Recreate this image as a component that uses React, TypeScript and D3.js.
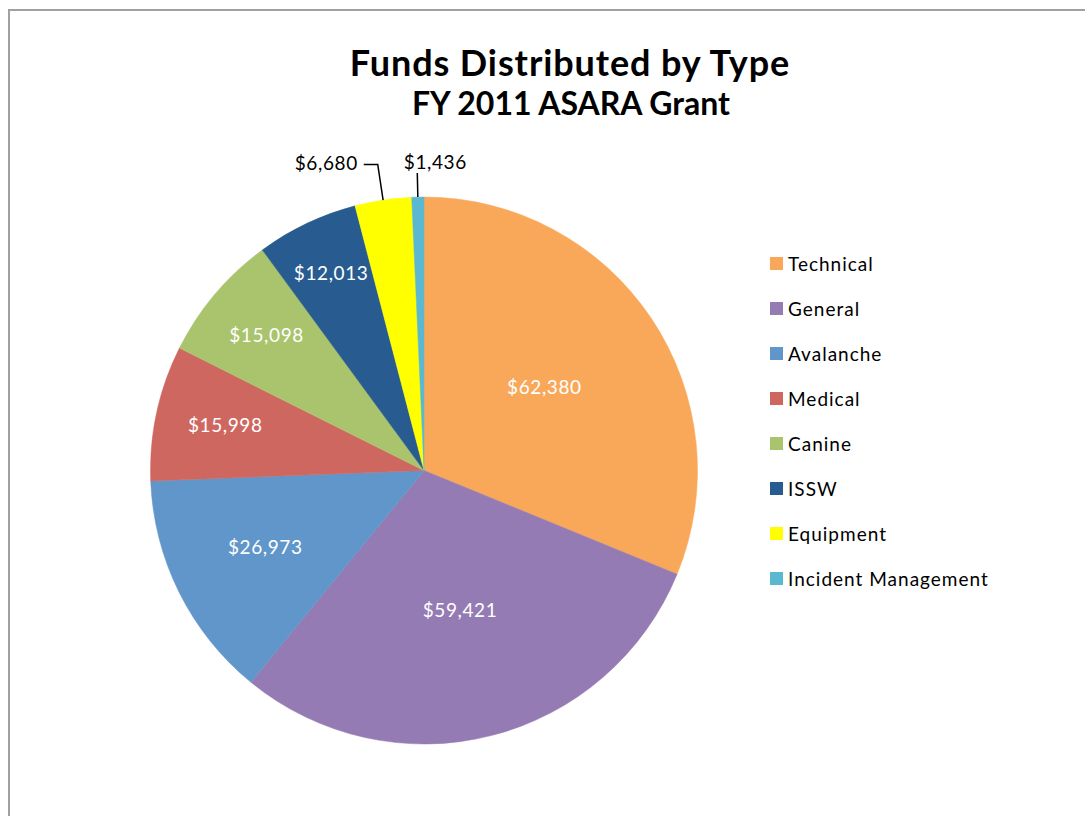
import { useEffect } from 'react';
import * as d3 from 'd3';

const categories = ['Technical', 'General', 'Avalanche', 'Medical', 'Canine', 'ISSW', 'Equipment', 'Incident Management'];
const funds = [62380, 59421, 26973, 15998, 15098, 12013, 6680, 1436];
const sliceColors = ['#F9A85A', '#957BB3', '#6196CA', '#CF6761', '#A9C46C', '#285C90', '#FFFF00', '#5BB8D1'];

const titleText = 'Funds Distributed by Type';
const subtitleText = 'FY 2011 ASARA Grant';

const W = 1085;
const H = 816;
const cx = 424;
const cy = 470.5;
const R = 273.5;
const FONT = 'Lato, Calibri, "Noto Sans", sans-serif';

interface Slice {
	label: string;
	value: number;
	color: string;
}

const slices: Slice[] = categories.map((c, i) => ({ label: c, value: funds[i], color: sliceColors[i] }));
const fmt = (v: number) => '$' + d3.format(',')(v);

export default function App() {
	useEffect(() => {
		document.body.style.margin = '0';
	}, []);

	const pie = d3
		.pie<Slice>()
		.value((d) => d.value)
		.sort(null);
	const arcs = pie(slices);
	const arc = d3.arc<d3.PieArcDatum<Slice>>().innerRadius(0).outerRadius(R);

	// rough "best fit": narrow wedges push their label out toward the rim
	const labelFrac = (d: d3.PieArcDatum<Slice>) => {
		const span = ((d.endAngle - d.startAngle) * 180) / Math.PI;
		return 0.5 + 0.5 * Math.exp(-span / 40);
	};
	const polar = (a: number, r: number): [number, number] => [Math.sin(a) * r, -Math.cos(a) * r];

	const legendY = d3.scalePoint<string>().domain(categories).range([265, 580]);

	return (
		<svg width={W} height={H} style={{ display: 'block', background: '#fff' }} fontFamily={FONT}>
			<rect x={9} y={10} width={W + 20} height={H + 20} fill="#fff" stroke="#A0A0A0" strokeWidth={2} />
			<text x={570} y={76} textAnchor="middle" fontWeight={700} fontSize={36} letterSpacing={0.9} fill="#000">
				{titleText}
			</text>
			<text x={571} y={115} textAnchor="middle" fontWeight={700} fontSize={32} fill="#000">
				{subtitleText}
			</text>

			<g transform={`translate(${cx},${cy})`}>
				{arcs.map((d) => (
					<path key={d.data.label} d={arc(d) || ''} fill={d.data.color} stroke={d.data.color} strokeWidth={0.5} />
				))}
				{arcs.map((d) => {
					const span = d.endAngle - d.startAngle;
					const mid = (d.startAngle + d.endAngle) / 2;
					if (span < 0.25) {
						const [ax, ay] = polar(mid, R);
						const nearTop = mid > Math.PI * 2 - 0.08;
						if (nearTop) {
							const [ex, ey] = polar(mid, R + 24);
							return (
								<g key={d.data.label}>
									<path d={`M${ax},${ay}L${ex},${ey}`} stroke="#000" strokeWidth={1.5} fill="none" />
									<text x={ex + 18} y={ey - 4} textAnchor="middle" fontSize={19} letterSpacing={0.6} fill="#000">
										{fmt(d.data.value)}
									</text>
								</g>
							);
						}
						const [ex, ey] = polar(mid, R + 36);
						return (
							<g key={d.data.label}>
								<path d={`M${ax},${ay}L${ex},${ey}L${ex - 14},${ey}`} stroke="#000" strokeWidth={1.5} fill="none" />
								<text x={ex - 20} y={ey} dy="0.3em" textAnchor="end" fontSize={19} letterSpacing={0.6} fill="#000">
									{fmt(d.data.value)}
								</text>
							</g>
						);
					}
					const [lx, ly] = polar(mid, R * labelFrac(d));
					return (
						<text key={d.data.label} x={lx} y={ly} dy="0.25em" textAnchor="middle" fontSize={19} letterSpacing={0.6} fill="#fff">
							{fmt(d.data.value)}
						</text>
					);
				})}
			</g>

			<g>
				{slices.map((s) => (
					<g key={s.label} transform={`translate(770,${legendY(s.label)})`}>
						<rect x={0} y={-8} width={13} height={13} fill={s.color} />
						<text x={18} y={0} dy="0.33em" fontSize={19} letterSpacing={1} fill="#000">
							{s.label}
						</text>
					</g>
				))}
			</g>
		</svg>
	);
}
